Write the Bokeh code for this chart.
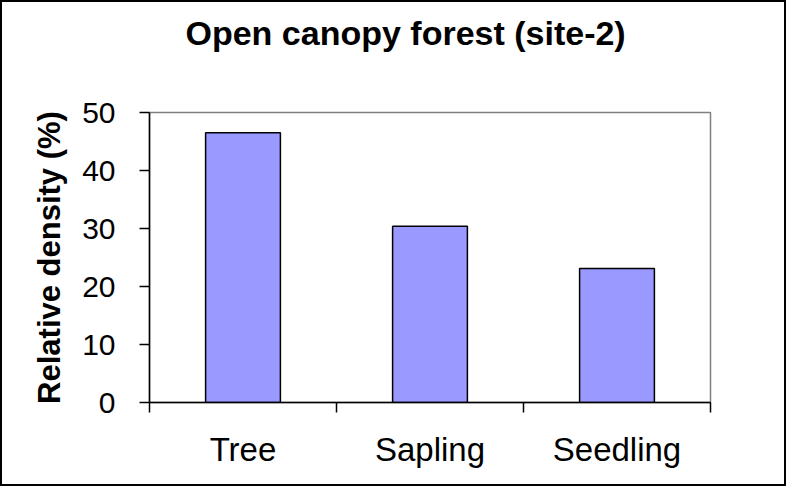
from bokeh.plotting import figure
from bokeh.models import FixedTicker, Range1d, ColumnDataSource, Title
from bokeh.embed import file_html
from bokeh.resources import INLINE

categories = ["Tree", "Sapling", "Seedling"]
values = [46.5, 30.4, 23.1]
y_ticks = [0, 10, 20, 30, 40, 50]
title_text = "Open canopy forest (site-2)"
y_label = "Relative density (%)"

FONT = "Liberation Sans"

xs = [i + 0.5 for i in range(len(categories))]
src = ColumnDataSource(dict(x=xs, top=values, cat=categories))

p = figure(width=786, height=486, output_backend="svg", toolbar_location=None,
           x_range=Range1d(0, len(categories)), y_range=Range1d(0, 50),
           min_border_left=147, min_border_right=78, min_border_top=110,
           min_border_bottom=86)
p.styles = {"border": "2px solid black"}

p.vbar(x="x", top="top", width=0.4, source=src, fill_color="#9999FF",
       line_color="black", line_width=1.5)

# blank spacer title between the real title and the frame
p.add_layout(Title(text=" ", text_font=FONT, text_font_size="49px", standoff=0), "above")

p.title.text = title_text
p.title.text_font = FONT
p.title.text_font_size = "34px"
p.title.text_font_style = "bold"
p.title.text_color = "black"
p.title.align = "left"
p.title.offset = 36
p.title.standoff = 10

p.xgrid.visible = False
p.ygrid.visible = False
p.outline_line_color = "#808080"
p.outline_line_width = 1.5

xa = p.xaxis[0]
xa.ticker = FixedTicker(ticks=xs, minor_ticks=list(range(len(categories) + 1)))
xa.major_label_overrides = {x: c for x, c in zip(xs, categories)}
xa.major_tick_out = 0
xa.major_tick_in = 0
xa.minor_tick_out = 10
xa.minor_tick_in = 0
xa.minor_tick_line_color = "black"
xa.minor_tick_line_width = 1.5
xa.axis_line_color = "black"
xa.axis_line_width = 1.5
xa.major_label_text_font = FONT
xa.major_label_text_font_size = "33px"
xa.major_label_text_color = "black"
xa.major_label_standoff = 18

ya = p.yaxis[0]
ya.ticker = FixedTicker(ticks=y_ticks)
ya.major_tick_out = 10
ya.major_tick_in = 0
ya.minor_tick_line_color = None
ya.major_tick_line_color = "black"
ya.major_tick_line_width = 1.5
ya.axis_line_color = "black"
ya.axis_line_width = 1.5
ya.major_label_text_font = FONT
ya.major_label_text_font_size = "30px"
ya.major_label_text_color = "black"
ya.major_label_standoff = 24
ya.axis_label = y_label
ya.axis_label_text_font = FONT
ya.axis_label_text_font_size = "31px"
ya.axis_label_text_font_style = "bold"
ya.axis_label_text_color = "black"
ya.axis_label_standoff = 12

open("out.html", "w").write(file_html(p, INLINE))
